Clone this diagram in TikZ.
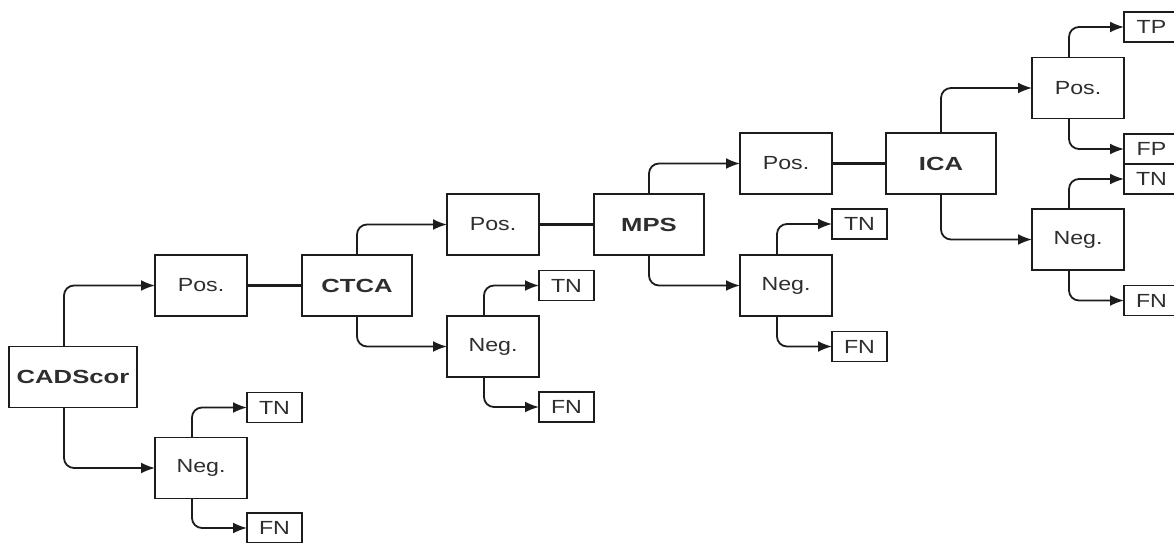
\documentclass[tikz,border=0pt]{standalone}
\usepackage{fontspec}
\usepackage{xcolor}
\newfontfamily\labfont[FakeStretch=1.22]{Liberation Sans}
\newfontfamily\testfont[FakeStretch=1.35]{Liberation Sans}
\definecolor{ink}{HTML}{1C1C1C}
\definecolor{txt}{HTML}{2E2E2E}
\usetikzlibrary{arrows.meta,positioning}

\begin{document}
\begin{tikzpicture}[
  x=1pt, y=1pt,
  font=\labfont\fontsize{19}{22}\selectfont,
  every node/.style={draw=ink, line width=1.8pt, outer sep=0pt, text=txt},
  testbox/.style={minimum width=110pt, minimum height=61pt,
                  font=\testfont\bfseries\fontsize{19}{22}\selectfont},
  resbox/.style={minimum width=92pt, minimum height=61pt},
  leaf/.style={minimum width=55pt, minimum height=30pt, inner sep=0pt},
  arrow/.style={-{Latex[length=14pt,width=11pt]}, draw=ink, line width=1.8pt,
                rounded corners=10pt},
  link/.style={draw=ink, line width=2.2pt}
]
\useasboundingbox (0,0) rectangle (1174,-542);

% stage 1
\node[testbox, minimum width=128pt] (cad) at (73,-377) {CADScor};
\node[resbox, right=18pt of cad, yshift=91.5pt] (pos1) {Pos.};
\node[resbox, right=18pt of cad, yshift=-91pt] (neg1) {Neg.};
\node[leaf, right=0pt of neg1, yshift=60.5pt] (tn1) {TN};
\node[leaf, right=0pt of neg1, yshift=-60pt] (fn1) {FN};

% stage 2
\node[testbox, right=55pt of pos1] (ctca) {CTCA};
\node[resbox, right=35pt of ctca, yshift=61pt] (pos2) {Pos.};
\node[resbox, right=35pt of ctca, yshift=-61pt] (neg2) {Neg.};
\node[leaf, right=0pt of neg2, yshift=61pt] (tn2) {TN};
\node[leaf, right=0pt of neg2, yshift=-60.5pt] (fn2) {FN};

% stage 3
\node[testbox, right=55pt of pos2] (mps) {MPS};
\node[resbox, right=36pt of mps, yshift=61pt] (pos3) {Pos.};
\node[resbox, right=36pt of mps, yshift=-61pt] (neg3) {Neg.};
\node[leaf, right=0pt of neg3, yshift=61.5pt] (tn3) {TN};
\node[leaf, right=0pt of neg3, yshift=-61pt] (fn3) {FN};

% stage 4
\node[testbox, right=54pt of pos3] (ica) {ICA};
\node[resbox, right=36pt of ica, yshift=75.5pt] (pos4) {Pos.};
\node[resbox, right=36pt of ica, yshift=-76pt] (neg4) {Neg.};
\node[leaf, right=0pt of pos4, yshift=61pt] (tp) {TP};
\node[leaf, right=0pt of pos4, yshift=-61pt] (fp) {FP};
\node[leaf, below=0pt of fp] (tn4) {TN};
\node[leaf, right=0pt of neg4, yshift=-61pt] (fn4) {FN};

% connectors
\draw[arrow] ([xshift=-9pt]cad.north) |- (pos1.west);
\draw[arrow] ([xshift=-9pt]cad.south) |- (neg1.west);
\draw[arrow] ([xshift=-9pt]neg1.north) |- (tn1.west);
\draw[arrow] ([xshift=-9pt]neg1.south) |- (fn1.west);
\draw[link] (pos1.east) -- (ctca.west);

\draw[arrow] (ctca.north) |- (pos2.west);
\draw[arrow] (ctca.south) |- (neg2.west);
\draw[arrow] ([xshift=-9pt]neg2.north) |- (tn2.west);
\draw[arrow] ([xshift=-9pt]neg2.south) |- (fn2.west);
\draw[link] (pos2.east) -- (mps.west);

\draw[arrow] (mps.north) |- (pos3.west);
\draw[arrow] (mps.south) |- (neg3.west);
\draw[arrow] ([xshift=-9pt]neg3.north) |- (tn3.west);
\draw[arrow] ([xshift=-9pt]neg3.south) |- (fn3.west);
\draw[link] (pos3.east) -- (ica.west);

\draw[arrow] (ica.north) |- (pos4.west);
\draw[arrow] (ica.south) |- (neg4.west);
\draw[arrow] ([xshift=-9pt]pos4.north) |- (tp.west);
\draw[arrow] ([xshift=-9pt]pos4.south) |- (fp.west);
\draw[arrow] ([xshift=-9pt]neg4.north) |- (tn4.west);
\draw[arrow] ([xshift=-9pt]neg4.south) |- (fn4.west);
\end{tikzpicture}
\end{document}
